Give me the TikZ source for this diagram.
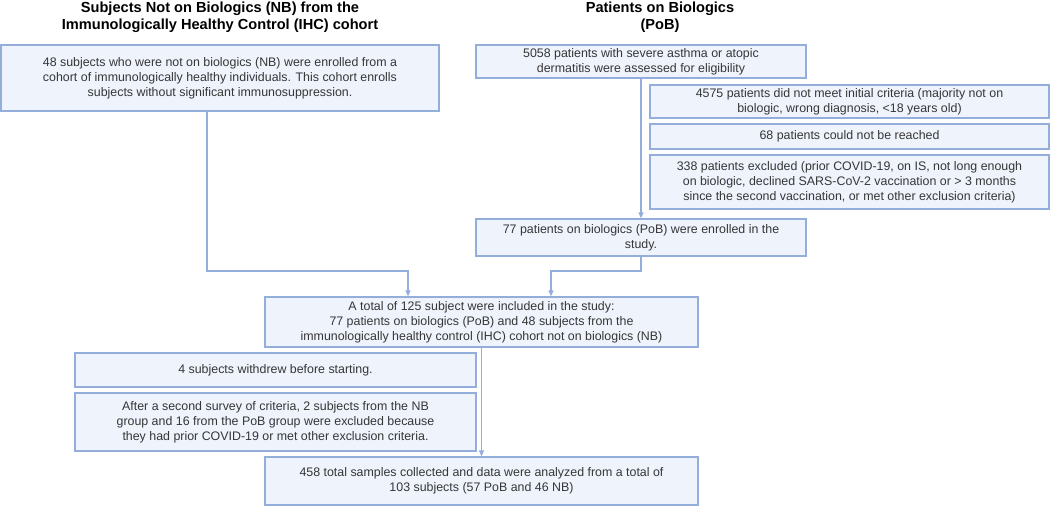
\documentclass[tikz,border=0pt]{standalone}
\usepackage{fontspec}
\setmainfont{Liberation Sans}
\usetikzlibrary{arrows.meta}
\definecolor{boxfill}{HTML}{EEF3FC}
\definecolor{boxline}{HTML}{94AEDC}
\definecolor{boxtext}{HTML}{363636}
\tikzset{
  box/.style={draw=boxline, line width=1.2pt, fill=boxfill, text=boxtext, align=center,
    inner sep=0pt, font=\fontsize{12.4}{15}\selectfont},
  head/.style={align=center, font=\bfseries\fontsize{14.6}{17}\selectfont},
  arr/.style={draw=boxline, line width=1.2pt, -{Triangle[length=6pt,width=5pt]}}
}
\begin{document}
\begin{tikzpicture}[x=1pt,y=-1pt]
		\useasboundingbox (0,0) rectangle (1050,507);
		
		\node[head] (headnb) at (220,17) {Subjects Not on Biologics (NB) from the\\Immunologically Healthy Control (IHC) cohort};
		\node[head] (headpob) at (660,17) {Patients on Biologics\\(PoB)};
		
		\node[box, minimum width=438pt, minimum height=66pt] (nb) at (220,78) {48 subjects who were not on biologics (NB) were enrolled from a\\cohort of immunologically healthy individuals. This cohort enrolls\\subjects without significant immunosuppression.};
		\node[box, minimum width=330pt, minimum height=33pt] (screen) at (641,61.5) {5058 patients with severe asthma or atopic\\dermatitis were assessed for eligibility};
		
		\node[box, minimum width=399pt, minimum height=33pt] (exa) at (849.5,101.5) {4575 patients did not meet initial criteria (majority not on\\biologic, wrong diagnosis, <18 years old)};
		\node[box, minimum width=399pt, minimum height=25pt] (exb) at (849.5,136.5) {68 patients could not be reached};
		\node[box, minimum width=399pt, minimum height=54pt] (exc) at (849.5,182) {338 patients excluded (prior COVID-19, on IS, not long enough\\on biologic, declined SARS-CoV-2 vaccination or > 3 months\\since the second vaccination, or met other exclusion criteria)};
		
		\node[box, minimum width=330pt, minimum height=37pt] (pob) at (641,237.5) {77 patients on biologics (PoB) were enrolled in the\\study.};
		
		\node[box, minimum width=433pt, minimum height=50pt] (total) at (481.5,322) {A total of 125 subject were included in the study:\\77 patients on biologics (PoB) and 48 subjects from the\\immunologically healthy control (IHC) cohort not on biologics (NB)};
		
		\node[box, minimum width=401pt, minimum height=34pt] (wd) at (275.5,370) {4 subjects withdrew before starting.};
		\node[box, minimum width=401pt, minimum height=58pt] (exd) at (275.5,422) {After a second survey of criteria, 2 subjects from the NB\\group and 16 from the PoB group were excluded because\\they had prior COVID-19 or met other exclusion criteria.};
		
		\node[box, minimum width=433pt, minimum height=48pt] (final) at (481.5,481) {458 total samples collected and data were analyzed from a total of\\103 subjects (57 PoB and 46 NB)};
		
		\coordinate (joinl) at (408,271);
		\coordinate (joinr) at (551,271);
		
		\draw[arr] (screen.south) -- (pob.north);
		\draw[arr] ([xshift=-13pt]nb.south) |- (joinl) -- (joinl |- total.north);
		\draw[arr] (pob.south) |- (joinr) -- (joinr |- total.north);
		\draw[arr] (total.south) -- (final.north);
	\end{tikzpicture}
\end{document}
